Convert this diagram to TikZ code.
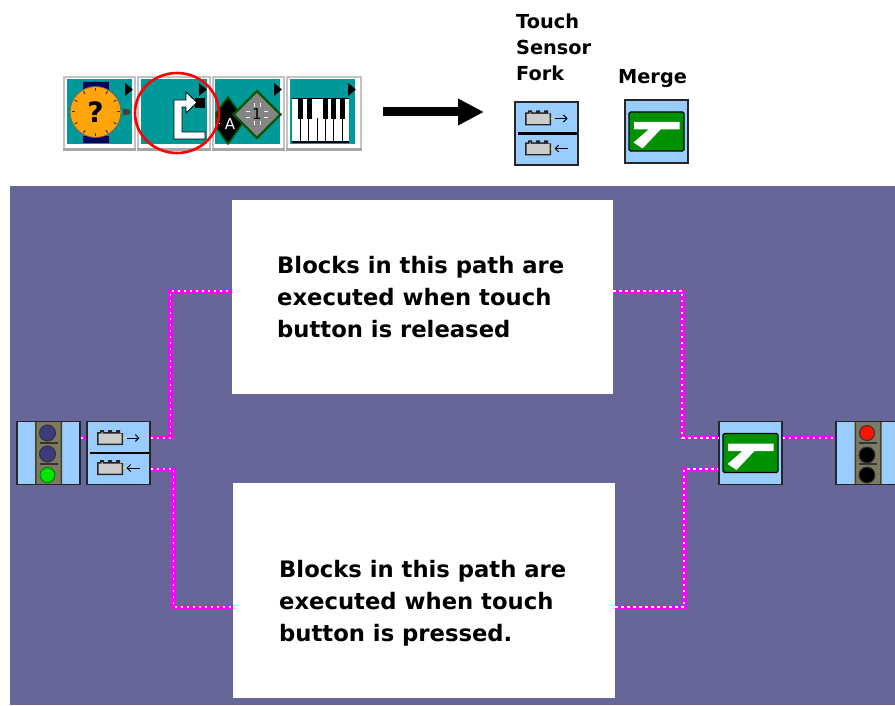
\documentclass[tikz,border=0pt]{standalone}
\usepackage{fontspec}
\setmainfont{DejaVu Sans}
\usetikzlibrary{arrows.meta}
\usetikzlibrary{shapes.geometric}
\definecolor{panelblue}{RGB}{102,102,153}
\definecolor{iconblue}{RGB}{153,204,255}
\definecolor{iconteal}{RGB}{0,153,153}
\definecolor{icongreen}{RGB}{0,145,0}
\definecolor{bevelgrey}{RGB}{195,195,195}
\definecolor{wiremagenta}{RGB}{255,0,255}
\definecolor{watchorange}{RGB}{255,165,10}
\definecolor{strapnavy}{RGB}{0,0,90}
\definecolor{bulbnavy}{RGB}{60,60,125}
\definecolor{stripgrey}{RGB}{125,122,100}
\definecolor{stripedge}{RGB}{70,65,25}
\tikzset{
	brick/.pic={
		\fill[black!85] (-14,-6) -- (-11,-6) -- (-11,-8) -- (-7,-8) -- (-7,-6) -- (-3,-6) -- (-3,-8) -- (1,-8) -- (1,-6) -- (5,-6) -- (5,-8) -- (9,-8) -- (9,-5) -- (12,-5) -- (12,7) -- (-14,7) -- cycle;
		\fill[black!20] (-12.5,-4.5) -- (-9.5,-4.5) -- (-9.5,-6) -- (-8.5,-6) -- (-8.5,-4.5) -- (10.5,-4.5) -- (10.5,5.5) -- (-12.5,5.5) -- cycle;
		\fill[yellow!90!black] (13,0) circle (1.3);
	},
	forkicon/.pic={
		\draw[line width=2.2pt] (-29,0) -- (30,0);
		\path (-7.5,-15) pic {brick} (-7.5,15) pic {brick};
		\draw[-{Straight Barb[length=3.5pt,width=7pt]}, line width=1pt] (8,-15) -- (21,-15);
		\draw[-{Straight Barb[length=3.5pt,width=7pt]}, line width=1pt] (21,15) -- (8,15);
	},
	mergeicon/.pic={
		\fill[icongreen, draw=black, line width=1.4pt, rounded corners=1.5pt] (-27.5,-19.5) rectangle (27.5,19.5);
		\fill[white] (-22.5,-9.5) -- (23,-9.5) -- (23,-2) -- (4,-2) -- (-14,17) -- (-23,11) -- (-8,-2) -- (-22.5,-2) -- cycle;
	},
	lighticon/.pic={
		\fill[stripgrey] (-13,-31) rectangle (13,31);
		\fill[stripedge] (-13.5,-31) rectangle (-12,31) (12,-31) rectangle (13.5,31);
		\path[draw=black!80, line width=1.2pt] (-9,-10) -- (9,-10) (-9,11) -- (9,11);
	},
	lightbulb/.style={circle, draw=black!80, line width=1pt, minimum size=#1, inner sep=0pt},
	blockbox/.style={draw=black!85, fill=iconblue, line width=1.2pt, minimum size=63pt, inner sep=0pt},
	pathbox/.style={fill=white, inner sep=0pt},
	pathtext/.style={anchor=west, align=left, font=\fontsize{22.7}{32}\selectfont\bfseries, inner sep=0pt},
	titletext/.style={anchor=west, align=left, font=\fontsize{19.3}{26}\selectfont\bfseries, inner sep=0pt},
	wire/.style={draw=wiremagenta, line width=4.6pt, line cap=butt,
		postaction={draw=white, line width=1.6pt, dash pattern=on 2.4pt off 3.6pt}},
	palettecell/.style={fill=iconteal, minimum width=65pt, minimum height=65pt, inner sep=0pt}
}
\begin{document}
\begin{tikzpicture}[x=1pt, y=-1pt]
	\useasboundingbox (0,0) rectangle (895,706);
	\fill[white] (0,0) rectangle (895,706);

	\node[fill=white, minimum width=299pt, minimum height=75pt, inner sep=0pt] (palette) at (212.5,113.5) {};
	\foreach \xleft/\xright in {63/136,137/211,212/285,286/362} {
		\draw[bevelgrey, line width=1.6pt] (\xleft+0.8,76.8) rectangle (\xright-0.8,150);
		\fill[black!35] (\xleft,148) rectangle (\xright,151);
	}
	\node[palettecell] (timercell) at (99.5,112) {};
	\node[palettecell, minimum width=66pt] (forkcell) at (174,112) {};
	\node[palettecell] (diamondcell) at (247.5,112) {};
	\node[palettecell] (pianocell) at (322.5,112) {};
	\foreach \xtip in {132,206,281,355} {
		\fill[black] (\xtip-7,83) -- (\xtip+1,89.5) -- (\xtip-7,96) -- cycle;
	}

	\fill[strapnavy] (83,82) rectangle (109,90) (83,136) rectangle (109,143);
	\fill[black!75] (123,108.5) -- (130,110) -- (130,114) -- (123,115.5) -- cycle;
	\node[circle, fill=watchorange, draw=black!60, line width=0.8pt, minimum size=51pt, inner sep=0pt, font=\fontsize{28}{28}\selectfont\bfseries] (watch) at (95.5,112) {?};
	\foreach \tick in {0,30,...,330} {
		\draw[black!80, line width=1pt] (95.5,112) ++(\tick:21) -- ++(\tick:3);
	}

	\fill[black] (195,98) rectangle (205,108);
	\fill[white, draw=black, line width=0.8pt] (174,100) -- (186,100) -- (186,92) -- (197,102.5) -- (186,113) -- (186,107) -- (182,107) -- (182,132) -- (205,132) -- (205,139) -- (174,139) -- cycle;

	\draw[fill=black, draw=green!35!black, line width=1.5pt] (228,97) -- (245,120) -- (228,144) -- (216,127) -- (216,113) -- cycle;
	\node[white, font=\fontsize{15}{15}\selectfont] (letterA) at (230,124) {A};
	\draw[white, line width=1pt] (216.5,119) -- (220,119) (216.5,124) -- (220,124);
	\node[diamond, aspect=1, fill=black!48, draw=green!35!black, line width=2.4pt, minimum size=48pt, inner sep=0pt, font=\fontsize{15}{15}\selectfont] (diamondone) at (257,114.5) {1};
	\foreach \sx/\sy in {1/1,1/-1,-1/1,-1/-1} {
		\draw[white, line width=1pt] (257+7*\sx,114.5+3*\sy) -- (257+11*\sx,114.5+3*\sy) (257+3*\sx,114.5+7*\sy) -- (257+3*\sx,114.5+11*\sy);
	}

	\fill[white] (292,99) rectangle (349,143);
	\foreach \xline in {300,308.5,317,325,333,342} {
		\draw[black, line width=0.8pt] (\xline,118) -- (\xline,142);
	}
	\foreach \xkey in {300,309,325,333,342} {
		\fill[black] (\xkey-2.5,99) rectangle (\xkey+2.5,119);
	}
	\draw[black, line width=1pt] (292,99) -- (349,99);
	\draw[black, line width=2pt] (292,142) -- (349,142);
	\draw[red, line width=2.6pt] (177,113) ellipse [x radius=42, y radius=40];

	\node[titletext] (touchtitle) at (516,47.5) {Touch\\Sensor\\Fork};
	\node[titletext] (mergetitle) at (618,78.5) {Merge};
	\node[blockbox] (forkkey) at (546.5,133.5) {};
	\path (forkkey) pic {forkicon};
	\node[blockbox] (mergekey) at (656.5,131.5) {};
	\path (mergekey) pic {mergeicon};
	\coordinate (arrowstart) at (383,112);
	\coordinate (arrowend) at (484,112);
	\draw[line width=9pt, -{Triangle[length=26pt,width=25pt]}] (arrowstart) -- (arrowend);

	\fill[panelblue] (10,186) rectangle (895,705);
	\node[pathbox, minimum width=381pt, minimum height=194pt] (upperpath) at (422.5,297) {};
	\node[pathbox, minimum width=382pt, minimum height=215pt] (lowerpath) at (424,590.5) {};
	\node[pathtext] (uppertext) at (277,297) {Blocks in this path are\\executed when touch\\button is released};
	\node[pathtext] (lowertext) at (279,603) {Blocks in this path are\\executed when touch\\button is pressed.};

	\node[blockbox] (startlight) at (48.5,453) {};
	\path (startlight) pic {lighticon};
	\node[lightbulb=16pt, fill=bulbnavy] (startone) at (47.5,433) {};
	\node[lightbulb=16pt, fill=bulbnavy] (starttwo) at (47.5,454) {};
	\node[lightbulb=15pt, fill=green!90!black, draw=green!50!black] (startthree) at (47.5,475) {};
	\node[blockbox] (fork) at (118.5,453) {};
	\path (fork) pic {forkicon};
	\node[blockbox] (merge) at (750.5,453) {};
	\path (merge) pic {mergeicon};
	\node[blockbox, minimum width=64pt] (stoplight) at (868,453) {};
	\path (stoplight) pic {lighticon};
	\node[lightbulb=15pt, fill=red!85!orange] (stopone) at (867,433) {};
	\node[lightbulb=16pt, fill=black] (stoptwo) at (867,455) {};
	\node[lightbulb=16pt, fill=black] (stopthree) at (867,475) {};

	\draw[wire] ([yshift=15pt]startlight.east) -- ([yshift=15pt]fork.west);
	\draw[wire] ([yshift=15pt]fork.east) -- ++(20,0) |- ([yshift=6pt]upperpath.west);
	\draw[wire] ([yshift=-16pt]fork.east) -- ++(23,0) |- ([yshift=-16.5pt]lowerpath.west);
	\draw[wire] ([yshift=6pt]upperpath.east) -- ++(69,0) |- ([yshift=15pt]merge.west);
	\draw[wire] ([yshift=-16.5pt]lowerpath.east) -- ++(69,0) |- ([yshift=-16pt]merge.west);
	\draw[wire] ([yshift=15pt]merge.east) -- ([yshift=15pt]stoplight.west);
\end{tikzpicture}
\end{document}
